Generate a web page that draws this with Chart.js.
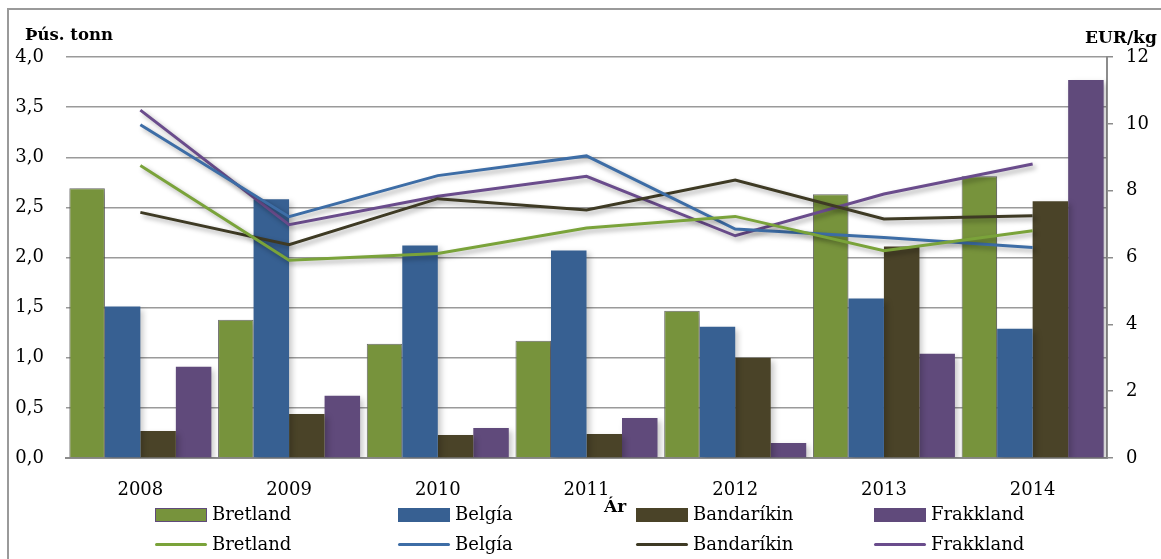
<!DOCTYPE html>
<html>
<head>
<meta charset="utf-8">
<script src="https://cdn.jsdelivr.net/npm/chart.js@4.4.0/dist/chart.umd.min.js"></script>
<style>
  html, body { margin: 0; padding: 0; background: #fff; }
  #wrap { position: relative; width: 1161px; height: 559px; overflow: hidden; font-family: "DejaVu Serif", serif; }
  #frame { position: absolute; left: 7px; top: 8px; width: 1170px; height: 570px; border-left: 2px solid #9a9a9a; border-top: 2px solid #9a9a9a; }
  canvas { position: absolute; left: 0; top: 0; }
  .lbl { position: absolute; white-space: nowrap; line-height: 20px; color: #000; }
  .ttl { font-weight: bold; font-size: 17px; }
  .leg { font-size: 18px; }
  .sw { position: absolute; }
</style>
</head>
<body>
<div id="wrap">
  <div id="frame"></div>
  <canvas id="c" width="1161" height="559"></canvas>
  <div class="lbl ttl" style="left:25px;top:25px;font-size:16.5px;">Þús. tonn</div>
  <div class="lbl ttl" style="left:1085px;top:27px;">EUR/kg</div>
  <div class="lbl ttl" style="left:604px;top:496px;">Ár</div>
  <div id="legend"></div>
</div>
<script>
const years = ["2008", "2009", "2010", "2011", "2012", "2013", "2014"];
const countries = ["Bretland", "Belgía", "Bandaríkin", "Frakkland"];

// magn, þús. tonn (vinstri ás)
const tonsBretland   = [2.69, 1.38, 1.14, 1.17, 1.47, 2.63, 2.81];
const tonsBelgia     = [1.51, 2.58, 2.12, 2.07, 1.31, 1.59, 1.29];
const tonsBandarikin = [0.27, 0.44, 0.23, 0.24, 1.00, 2.11, 2.56];
const tonsFrakkland  = [0.91, 0.62, 0.30, 0.40, 0.15, 1.04, 3.77];

// verð, EUR/kg (hægri ás)
const priceBretland   = [8.75, 5.92, 6.12, 6.88, 7.23, 6.20, 6.80];
const priceBelgia     = [9.97, 7.22, 8.45, 9.04, 6.85, 6.60, 6.30];
const priceBandarikin = [7.35, 6.38, 7.76, 7.42, 8.32, 7.15, 7.25];
const priceFrakkland  = [10.41, 6.98, 7.83, 8.43, 6.65, 7.90, 8.80];

const leftTicks = [0, 0.5, 1, 1.5, 2, 2.5, 3, 3.5, 4];
const rightTicks = [0, 2, 4, 6, 8, 10, 12];

const barColors = ["#77933C", "#376092", "#4A4328", "#604A7B"];
const lineColors = ["#7AA33A", "#3D6DA6", "#3E3A24", "#6A4C8C"];

const tons = [tonsBretland, tonsBelgia, tonsBandarikin, tonsFrakkland];
const prices = [priceBretland, priceBelgia, priceBandarikin, priceFrakkland];

const shadow = {
  id: "shadow",
  beforeDatasetDraw(chart, args) {
    const ctx = chart.ctx;
    ctx.save();
    const isLine = args.meta.type === "line";
    ctx.shadowColor = isLine ? "rgba(0,0,0,0.35)" : "rgba(0,0,0,0.22)";
    ctx.shadowBlur = isLine ? 5 : 6;
    ctx.shadowOffsetX = 3;
    ctx.shadowOffsetY = 3;
  },
  afterDatasetDraw(chart) {
    chart.ctx.restore();
  }
};

const datasets = [];
countries.forEach((name, i) => {
  datasets.push({
    type: "bar", label: name, data: tons[i], yAxisID: "y", order: 2,
    backgroundColor: barColors[i],
    borderColor: i === 0 ? "#6b6b6b" : barColors[i],
    borderWidth: i === 0 ? 1 : 0,
    categoryPercentage: 0.955, barPercentage: 1
  });
});
countries.forEach((name, i) => {
  datasets.push({
    type: "line", label: name, data: prices[i], yAxisID: "y1", order: 1,
    borderColor: lineColors[i], borderWidth: 3, pointRadius: 0, tension: 0, fill: false
  });
});

const tickFont = { family: "DejaVu Serif", size: 18 };

new Chart(document.getElementById("c"), {
  type: "bar",
  data: { labels: years, datasets },
  plugins: [shadow],
  options: {
    responsive: false,
    animation: false,
    events: [],
    layout: { padding: { top: 57, right: 0, bottom: 0, left: 0 } },
    plugins: { legend: { display: false }, tooltip: { enabled: false } },
    scales: {
      x: {
        grid: { display: false },
        border: { display: true, color: "#8c8c8c", width: 2 },
        ticks: { color: "#000", font: tickFont, padding: 14 },
        afterFit: (s) => { s.height = 101; }
      },
      y: {
        position: "left", min: 0, max: 4,
        afterBuildTicks: (s) => { s.ticks = leftTicks.map((v) => ({ value: v })); },
        ticks: { color: "#000", font: tickFont, padding: 22, callback: (v) => v.toFixed(1).replace(".", ",") },
        grid: { color: "#9a9a9a", lineWidth: 1.5, drawTicks: false },
        border: { display: false },
        afterFit: (s) => { s.width = 66; }
      },
      y1: {
        position: "right", min: 0, max: 12,
        afterBuildTicks: (s) => { s.ticks = rightTicks.map((v) => ({ value: v })); },
        ticks: { color: "#000", font: tickFont, padding: 13 },
        grid: { drawOnChartArea: false, drawTicks: true, tickLength: 6, color: "#8c8c8c", lineWidth: 1.5 },
        border: { display: true, color: "#8c8c8c", width: 2 },
        afterFit: (s) => { s.width = 54; }
      }
    }
  }
});

// legend: two rows, bars on the first, lines on the second
const legendX = [155, 398, 636, 874];
const legend = document.getElementById("legend");
countries.forEach((name, i) => {
  const box = document.createElement("div");
  box.className = "sw";
  box.style.cssText = `left:${legendX[i]}px;top:508px;width:52px;height:14px;background:${barColors[i]};` +
    (i === 0 ? "box-sizing:border-box;border:1px solid #604A7B;" : "");
  legend.appendChild(box);
  const t1 = document.createElement("div");
  t1.className = "lbl leg";
  t1.style.cssText = `left:${legendX[i] + 57}px;top:504px;`;
  t1.textContent = name;
  legend.appendChild(t1);

  const ln = document.createElement("div");
  ln.className = "sw";
  ln.style.cssText = `left:${legendX[i]}px;top:543px;width:52px;height:3px;border-radius:2px;background:${lineColors[i]};`;
  legend.appendChild(ln);
  const t2 = document.createElement("div");
  t2.className = "lbl leg";
  t2.style.cssText = `left:${legendX[i] + 57}px;top:534px;`;
  t2.textContent = name;
  legend.appendChild(t2);
});
</script>
</body>
</html>
